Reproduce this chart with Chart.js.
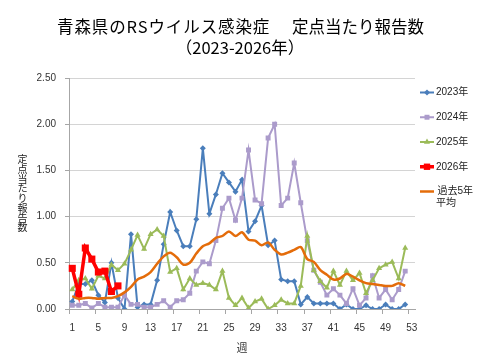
<!DOCTYPE html>
<html>
<head>
<meta charset="utf-8">
<script src="https://cdn.jsdelivr.net/npm/chart.js@4.4.1/dist/chart.umd.min.js"></script>
<style>
html,body{margin:0;padding:0;background:#fff;}
canvas{display:block;}
</style>
</head>
<body>
<canvas id="c" width="480" height="360"></canvas>
<script>
// ---- data ----
const weeks = ['1','2','3','4','5','6','7','8','9','10','11','12','13','14','15','16','17','18','19','20',
  '21','22','23','24','25','26','27','28','29','30','31','32','33','34','35','36','37','38','39','40',
  '41','42','43','44','45','46','47','48','49','50','51','52','53'];

const y2023 = [0.08,0.27,0.27,0.31,0.15,0.07,0.50,0.12,0.00,0.81,
  0.02,0.05,0.05,0.31,0.70,1.05,0.85,0.68,0.68,0.97,
  1.74,1.03,1.24,1.47,1.37,1.27,1.40,0.84,0.95,1.12,
  0.69,0.74,0.32,0.30,0.30,0.05,0.13,0.06,0.06,0.06,
  0.06,0.00,0.05,0.00,0.00,0.04,0.00,0.00,0.05,0.00,
  0.00,0.05,null];

const y2024 = [0.04,0.04,0.06,0.01,0.06,0.02,0.02,0.02,0.15,0.05,
  0.05,0.02,0.02,0.05,0.09,0.02,0.09,0.10,0.17,0.41,
  0.51,0.49,0.74,1.09,1.20,0.96,1.20,1.72,1.18,1.14,
  1.85,2.00,1.12,1.20,1.58,1.15,0.74,0.42,0.29,0.15,
  0.22,0.15,0.06,0.22,0.04,0.12,0.36,0.12,0.21,0.10,
  0.21,0.41,null];

const y2025 = [0.21,0.31,0.33,0.22,0.36,0.33,0.48,0.42,0.49,0.64,
  0.80,0.65,0.81,0.86,0.79,0.40,0.44,0.21,0.33,0.26,
  0.28,0.26,0.21,0.41,0.12,0.04,0.12,0.01,0.08,0.11,
  0.00,0.04,0.10,0.06,0.06,0.25,0.79,0.42,0.30,0.23,
  0.41,0.26,0.41,0.31,0.39,0.17,0.31,0.44,0.48,0.51,
  0.33,0.66,null];

const y2026 = [0.44,0.16,0.66,0.54,0.40,0.41,0.19,0.25];

const avg5 = [0.14,0.11,0.12,0.12,0.11,0.12,0.12,0.14,0.18,0.24,
  0.32,0.35,0.40,0.49,0.57,0.61,0.56,0.48,0.50,0.60,
  0.68,0.71,0.77,0.79,0.84,0.79,0.83,0.75,0.74,0.69,
  0.72,0.64,0.59,0.61,0.64,0.67,0.54,0.51,0.42,0.37,
  0.32,0.33,0.38,0.35,0.31,0.28,0.27,0.26,0.25,0.25,
  0.28,0.25,null];

const seriesNames = ['2023年','2024年','2025年','2026年','過去5年平均'];
const legendLines = [['2023年'],['2024年'],['2025年'],['2026年'],['過去5年','平均']];
const titleLeft = '青森県のRSウイルス感染症';
const titleRight = '定点当たり報告数';
const titleSub = '（2023-2026年）';
const yTitle = '定点当たり報告数';
const xTitle = '週';
const yTicks = [0, 0.5, 1.0, 1.5, 2.0, 2.5];

// ---- styles ----
const colors = ['#4a7ebb','#ab9bcb','#9bbb59','#ff0000','#e46c0a'];
const pStyles = ['rectRot','rect','triangle','rect',false];
const pRadius = [3,3.5,3.5,5,0];
const lWidths = [2,2,2,3.5,2.5];
const drawOrder = [4,3,2,1,0];

const CJK = '"Noto Sans CJK JP", sans-serif';
const NUMF = '"Liberation Sans", "Noto Sans CJK JP", sans-serif';
Chart.defaults.font.family = NUMF;

const values = [y2023, y2024, y2025, y2026, avg5];
const datasets = values.map((v,i)=>({
  label: seriesNames[i],
  data: v,
  borderColor: colors[i],
  backgroundColor: colors[i],
  borderWidth: lWidths[i],
  pointStyle: pStyles[i],
  pointRadius: pRadius[i],
  pointHoverRadius: pRadius[i],
  pointBorderWidth: 0,
  tension: i===4 ? 0.3 : 0,
  spanGaps: false,
  order: drawOrder[i]
}));

function drawMarker(ctx, style, r, x, y, color){
  if(!style) return;
  ctx.save();
  ctx.fillStyle = color;
  ctx.beginPath();
  if(style==='rect'){ const s=r*Math.SQRT1_2; ctx.rect(x-s,y-s,2*s,2*s); }
  else if(style==='rectRot'){ ctx.moveTo(x,y-r); ctx.lineTo(x+r,y); ctx.lineTo(x,y+r); ctx.lineTo(x-r,y); ctx.closePath(); }
  else if(style==='triangle'){ ctx.moveTo(x,y-r); ctx.lineTo(x+r*0.866,y+r*0.5); ctx.lineTo(x-r*0.866,y+r*0.5); ctx.closePath(); }
  ctx.fill();
  ctx.restore();
}

const sidePlugin = {
  id: 'sideStuff',
  beforeDraw(chart){
    const ctx = chart.ctx;
    ctx.save(); ctx.fillStyle='#fff'; ctx.fillRect(0,0,chart.width,chart.height); ctx.restore();
  },
  afterDraw(chart){
    const ctx = chart.ctx;
    const ca = chart.chartArea;
    // title
    ctx.save();
    ctx.fillStyle = '#000';
    ctx.font = '16.5px ' + CJK;
    ctx.textBaseline = 'middle';
    ctx.textAlign = 'left';
    if ('letterSpacing' in ctx) ctx.letterSpacing = '0.9px';
    ctx.fillText(titleLeft, 57, 27);
    if ('letterSpacing' in ctx) ctx.letterSpacing = '0px';
    ctx.textAlign = 'right';
    ctx.fillText(titleRight, 424, 27);
    ctx.textAlign = 'center';
    ctx.fillText(titleSub, 240, 47.5);
    ctx.restore();
    // vertical upright y title
    ctx.save();
    ctx.fillStyle = '#222';
    ctx.font = '10px ' + CJK;
    ctx.textAlign = 'center';
    ctx.textBaseline = 'middle';
    const chars = Array.from(yTitle);
    const step = 9.7;
    const cy = (ca.top + ca.bottom)/2;
    chars.forEach((ch,k)=>{
      ctx.fillText(ch, 22.5, cy + (k - (chars.length-1)/2)*step);
    });
    ctx.restore();
    // legend
    ctx.save();
    const x0 = ca.right + 5;
    chart.data.datasets.forEach((ds,i)=>{
      const y = 92.5 + i*24.75;
      ctx.strokeStyle = ds.borderColor;
      ctx.lineWidth = ds.borderWidth;
      ctx.beginPath(); ctx.moveTo(x0,y); ctx.lineTo(x0+14,y); ctx.stroke();
      drawMarker(ctx, ds.pointStyle, Math.min(ds.pointRadius,4.5), x0+7, y, ds.borderColor);
      ctx.fillStyle = '#222';
      ctx.font = '10px ' + NUMF;
      ctx.textAlign = 'left';
      ctx.textBaseline = 'middle';
      legendLines[i].forEach((t,k)=>{
        ctx.fillText(t, x0 + 16 + (i===4 && k===0 ? 1.5 : 0), y + k*12);
      });
    });
    ctx.restore();
  }
};

new Chart(document.getElementById('c'), {
  type: 'line',
  data: { labels: weeks, datasets },
  options: {
    responsive: false,
    animation: false,
    devicePixelRatio: 1,
    layout: { padding: { left: 0, right: 65, top: 78, bottom: 0 } },
    plugins: {
      legend: { display: false },
      tooltip: { enabled: false },
      title: { display: false }
    },
    scales: {
      x: {
        offset: true,
        ticks: {
          autoSkip: false, maxRotation: 0, minRotation: 0,
          padding: 8, color: '#333', font: { size: 10 },
          callback: (v,i) => (i % 4 === 0 ? weeks[i] : '')
        },
        grid: {
          offset: true, drawOnChartArea: false, tickLength: 5,
          color: c => (c.index % 4 === 0 ? '#a6a6a6' : 'rgba(0,0,0,0)')
        },
        border: { color: '#a6a6a6' },
        title: {
          display: true, text: xTitle, color: '#333',
          font: { family: CJK, size: 11 },
          padding: { top: 0, bottom: 6 }
        },
        afterFit(s){ s.height = 51; }
      },
      y: {
        min: 0, max: 2.5,
        afterBuildTicks(s){ s.ticks = yTicks.map(v=>({value:v})); },
        ticks: { padding: 9, color: '#333', font: { size: 10 }, callback: v => Number(v).toFixed(2) },
        grid: { color: '#d4d4d4', tickLength: 4, tickColor: '#a6a6a6' },
        border: { color: '#a6a6a6' },
        afterFit(s){ s.width = 69; }
      }
    }
  },
  plugins: [sidePlugin]
});
</script>
</body>
</html>
